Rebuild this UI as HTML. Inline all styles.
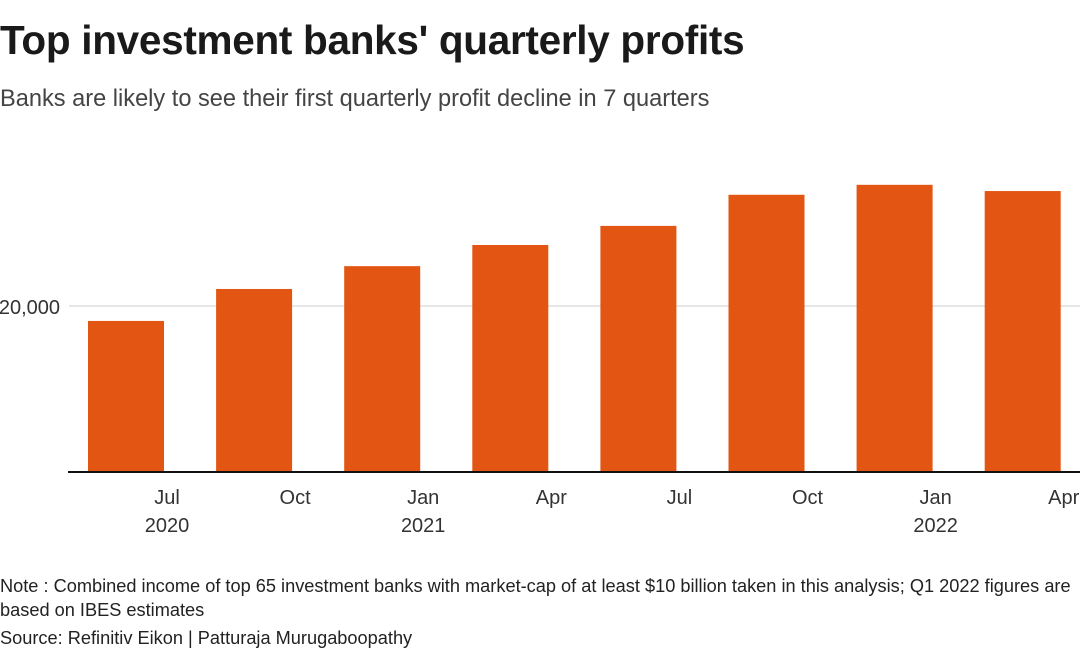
<!DOCTYPE html>
<html><head><meta charset="utf-8"><style>
body{margin:0;width:1080px;height:655px;background:#fff;font-family:"Liberation Sans",sans-serif;overflow:hidden;position:relative;color:#222}
#title{position:absolute;left:0;top:17px;font-size:40.5px;font-weight:bold;letter-spacing:-0.3px;margin:0;color:#1a1a1a;white-space:nowrap}
#sub{position:absolute;left:0;top:86px;font-size:23.6px;color:#444;white-space:nowrap}
.note{position:absolute;left:0;font-size:18.2px;color:#222;line-height:24px}
svg{position:absolute;left:0;top:0}
</style></head><body>
<h1 id="title">Top investment banks' quarterly profits</h1>
<div id="sub">Banks are likely to see their first quarterly profit decline in 7 quarters</div>
<svg id="chart" width="1080" height="655"></svg>
<div class="note" style="top:574px;width:1080px">Note : Combined income of top 65 investment banks with market-cap of at least $10 billion taken in this analysis; Q1 2022 figures are based on IBES estimates</div>
<div class="note" style="top:626px">Source: Refinitiv Eikon | Patturaja Murugaboopathy</div>
<script>
const categories=["Q2 2020","Q3 2020","Q4 2020","Q1 2021","Q2 2021","Q3 2021","Q4 2021","Q1 2022"];
const values=[18200,22050,24800,27350,29650,33400,34600,33850];
const monthLabels=["Jul","Oct","Jan","Apr","Jul","Oct","Jan","Apr"];
const yearLabels=["2020","","2021","","","","2022",""];
const yTicks=[20000];
const yTickLabels=["20,000"];
const NS="http://www.w3.org/2000/svg";
const svg=document.getElementById('chart');
const y0=472,pxPer=166/20000;
const y=v=>y0-v*pxPer;
const x=i=>88+i*128.1;
const bw=76;
function mk(t,a){const e=document.createElementNS(NS,t);for(const k in a)e.setAttribute(k,a[k]);svg.appendChild(e);return e;}
yTicks.forEach((t,i)=>{
 const g=mk('line',{x1:69,x2:1080,y1:y(t),y2:y(t),stroke:'#ccc','stroke-width':1});
 
 
 const l=mk('text',{x:60,y:y(t)+8,'text-anchor':'end','font-size':20,fill:'#333','font-family':'Liberation Sans'});
 l.textContent=yTickLabels[i];
 
 
});
values.forEach((v,i)=>{
 const r=mk('rect',{x:x(i),y:y(v),width:bw,height:y0-y(v),fill:'#e35512'});
 
 
 const m=mk('text',{x:x(i)+bw+3,y:504,'text-anchor':'middle','font-size':20,fill:'#333','font-family':'Liberation Sans'});
 m.textContent=monthLabels[i];
 
 
 if(yearLabels[i]){
  const yr=mk('text',{x:x(i)+bw+3,y:532,'text-anchor':'middle','font-size':20,fill:'#333','font-family':'Liberation Sans'});
  yr.textContent=yearLabels[i];
  
  
 }
});
const ax=mk('line',{x1:68,x2:1080,y1:y0,y2:y0,stroke:'#111','stroke-width':2});


</script>
</body></html>
